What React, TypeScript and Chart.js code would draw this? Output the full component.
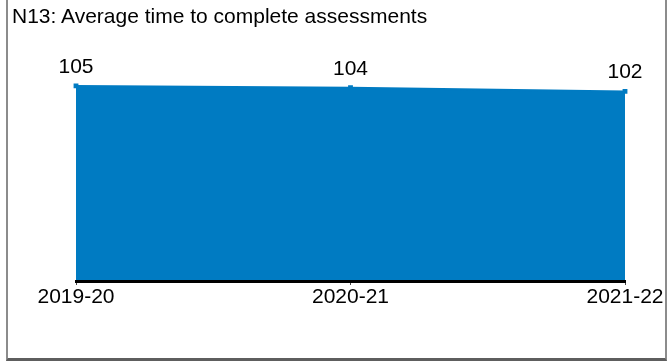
import React, { useEffect, useRef } from "react";
import { Chart, registerables } from "chart.js";

Chart.register(...registerables);

const titleText = "N13: Average time to complete assessments";
const categories = ["2019-20", "2020-21", "2021-22"];
const values = [105, 104, 102];
const yMin = 0;
const yMax = 120;

const BLUE = "#007BC2";
const FONT = "'Liberation Sans', Arial, sans-serif";

const labelPlugin = {
  id: "valueLabels",
  afterDatasetsDraw(chart: any) {
    const ctx = chart.ctx;
    const meta = chart.getDatasetMeta(0);
    ctx.save();
    ctx.font = `21px ${FONT}`;
    ctx.fillStyle = "#000";
    ctx.textAlign = "center";
    ctx.textBaseline = "alphabetic";
    meta.data.forEach((pt: any, i: number) => {
      ctx.fillText(String(values[i]), pt.x, pt.y - 13);
    });
    ctx.restore();
  },
};

export default function App() {
  const ref = useRef<HTMLCanvasElement>(null);
  useEffect(() => {
    if (!ref.current) return;
    const chart = new Chart(ref.current, {
      type: "line",
      data: {
        labels: categories,
        datasets: [
          {
            data: values,
            borderColor: BLUE,
            backgroundColor: BLUE,
            fill: "origin",
            borderWidth: 2,
            pointRadius: 2,
            pointStyle: "rect",
            pointBackgroundColor: BLUE,
            pointBorderColor: BLUE,
            tension: 0,
          },
        ],
      },
      options: {
        responsive: false,
        animation: false,
        layout: { padding: { left: 76, right: 46, top: 58, bottom: 0 } },
        plugins: {
          legend: { display: false },
          tooltip: { enabled: false },
          title: { display: false },
        },
        scales: {
          x: {
            offset: false,
            afterFit: (s: any) => {
              s.height = 81;
            },
            border: { display: true, color: "#000", width: 3, z: 1 },
            grid: {
              drawOnChartArea: false,
              drawTicks: true,
              tickLength: 4,
              color: "#444",
            },
            ticks: {
              color: "#000",
              padding: 0,
              maxRotation: 0,
              font: { family: FONT, size: 21 },
            },
          },
          y: {
            display: false,
            min: yMin,
            max: yMax,
          },
        },
      },
      plugins: [labelPlugin],
    });
    return () => chart.destroy();
  }, []);

  return (
    <div
      style={{
        position: "absolute",
        left: 0,
        top: 0,
        width: 671,
        height: 362,
        background: "#fff",
      }}
    >
      <canvas
        ref={ref}
        width={671}
        height={362}
        style={{ position: "absolute", left: 0, top: 0, width: 671, height: 362 }}
      />
      <div
        style={{
          position: "absolute",
          left: 6,
          top: 0,
          width: 657,
          height: 358,
          borderLeft: "2px solid #8c8c8c",
          borderRight: "2px solid #8c8c8c",
          borderBottom: "3px solid #5e5e5e",
          pointerEvents: "none",
        }}
      />
      <div
        style={{
          position: "absolute",
          left: 12,
          top: 4,
          fontFamily: FONT,
          fontSize: 21,
          color: "#000",
          whiteSpace: "nowrap",
          lineHeight: "24px",
        }}
      >
        {titleText}
      </div>
    </div>
  );
}
